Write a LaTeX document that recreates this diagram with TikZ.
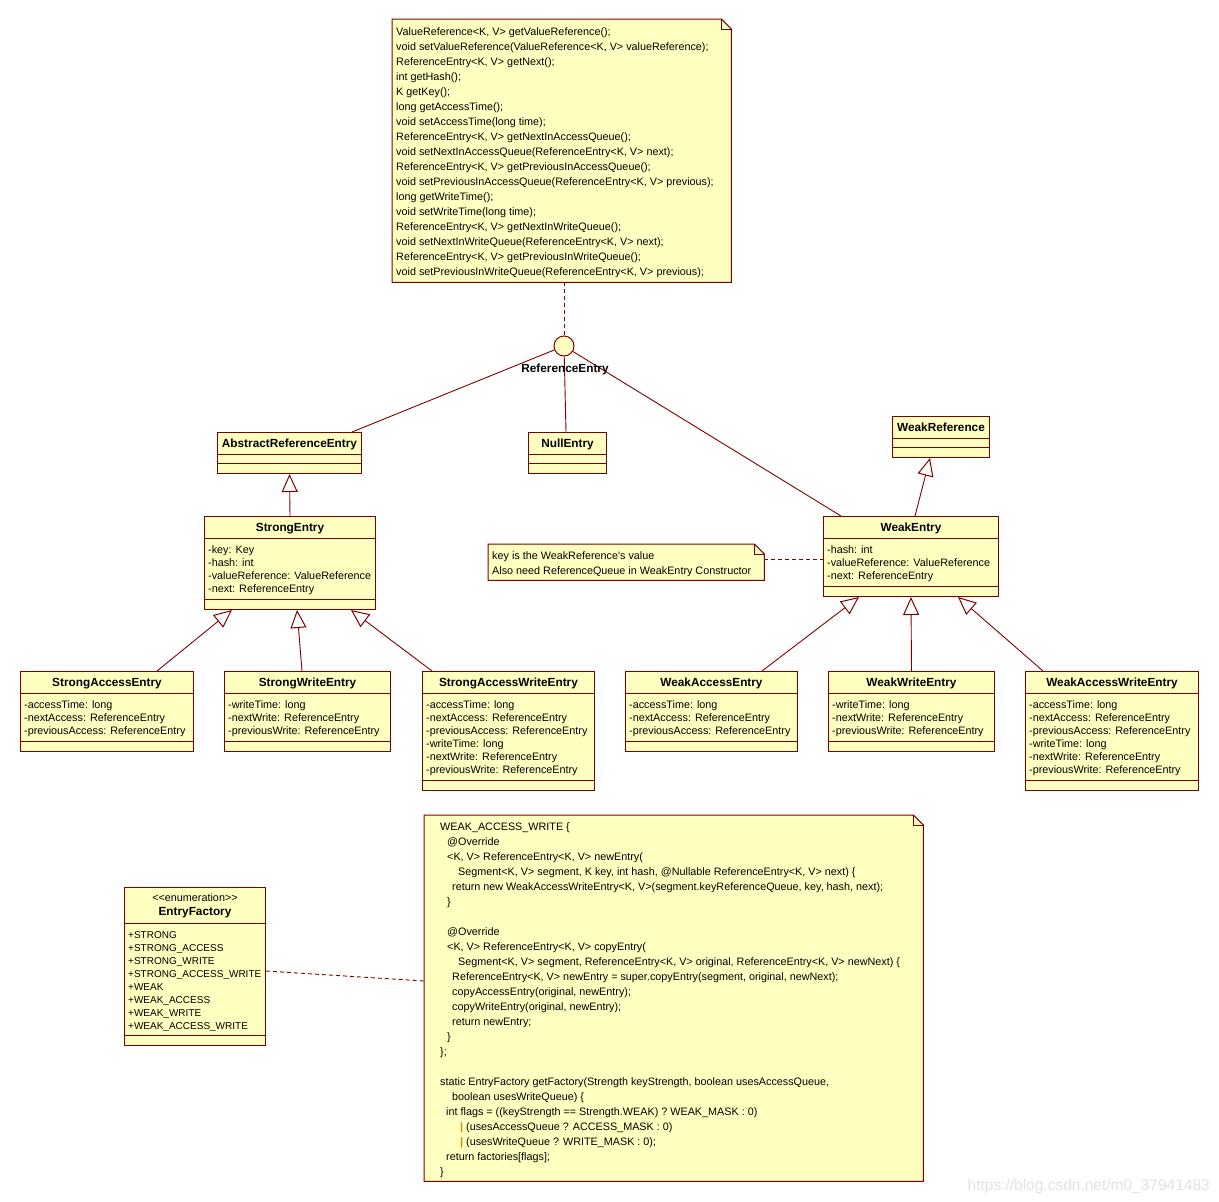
\documentclass[tikz,border=0pt]{standalone}
\usepackage{fontspec}
\setmainfont{Liberation Sans}[Ligatures=TeXOff]
\usetikzlibrary{arrows.meta}
\definecolor{umlfill}{RGB}{255,255,192}
\definecolor{umlline}{RGB}{128,0,0}
\definecolor{pipec}{RGB}{214,140,0}
\definecolor{wmc}{RGB}{226,226,226}
\newcommand{\rf}{\fontsize{10.8}{15}\selectfont}
\newcommand{\af}{\fontsize{10.8}{13}\selectfont}
\newcommand{\ef}{\fontsize{10}{13}\selectfont}
\newcommand{\tf}{\fontsize{11.8}{13}\selectfont\bfseries}
\newcommand{\pp}{{\color{pipec}\textbf{|}}}
\tikzset{
  box/.style={draw=umlline, fill=umlfill, line width=1pt, inner sep=0pt, anchor=north west, rectangle},
  sep/.style={draw=umlline, line width=1pt},
  conn/.style={draw=umlline, line width=0.9pt},
  gen/.style={conn, -{Triangle[open, length=18pt, width=16pt, line width=1pt]}},
  dsh/.style={conn, dash pattern=on 4pt off 3pt},
  ttl/.style={anchor=base, inner sep=0pt, font=\tf},
  blk/.style={anchor=north west, inner sep=0pt},
  frame/.style={anchor=north west, inner sep=0pt, rectangle},
}
\newcommand{\umlclass}[9]{%
  \node[box, minimum width=#4pt, minimum height=#5pt] (#1) at (#2,#3) {};
  \draw[sep] ([yshift=-#6pt]#1.north west) -- ([yshift=-#6pt]#1.north east);
  \draw[sep] ([yshift=-#7pt]#1.north west) -- ([yshift=-#7pt]#1.north east);
  \node[ttl] (#1-t) at ([yshift=-15pt]#1.north) {#8};
  \node[blk] (#1-a) at ([xshift=4pt,yshift=-28.5pt]#1.north west) {\af\begin{tabular}{@{}l@{}}#9\end{tabular}};
}
\newcommand{\umlnote}[5]{%
  \node[frame, minimum width=#4pt, minimum height=#5pt] (#1) at (#2,#3) {};
  \draw[sep, fill=umlfill] (#1.north west) -- ([xshift=-10pt]#1.north east) -- ([yshift=-10pt]#1.north east) -- (#1.south east) -- (#1.south west) -- cycle;
  \draw[sep] ([xshift=-10pt]#1.north east) -- ([xshift=-10pt,yshift=-10pt]#1.north east) -- ([yshift=-10pt]#1.north east);
}
\begin{document}
\begin{tikzpicture}[x=1pt,y=-1pt]
\fill[white] (0,0) rectangle (1219,1202);
\useasboundingbox (0,0) rectangle (1219,1202);

% top note
\umlnote{tn}{392}{19}{339}{263}
\node[blk] (tn-x) at (396,25) {\rf\begin{tabular}{@{}l@{}}
ValueReference<K, V> getValueReference();\\
void setValueReference(ValueReference<K, V> valueReference);\\
ReferenceEntry<K, V> getNext();\\
int getHash();\\
K getKey();\\
long getAccessTime();\\
void setAccessTime(long time);\\
ReferenceEntry<K, V> getNextInAccessQueue();\\
void setNextInAccessQueue(ReferenceEntry<K, V> next);\\
ReferenceEntry<K, V> getPreviousInAccessQueue();\\
void setPreviousInAccessQueue(ReferenceEntry<K, V> previous);\\
long getWriteTime();\\
void setWriteTime(long time);\\
ReferenceEntry<K, V> getNextInWriteQueue();\\
void setNextInWriteQueue(ReferenceEntry<K, V> next);\\
ReferenceEntry<K, V> getPreviousInWriteQueue();\\
void setPreviousInWriteQueue(ReferenceEntry<K, V> previous);
\end{tabular}};

% interface
\node[circle, draw=umlline, fill=umlfill, line width=1pt, minimum size=20pt, inner sep=0pt] (ifc) at (564,346) {};

% classes
\umlclass{are}{217}{432}{144}{41}{22}{31}{AbstractReferenceEntry}{}
\umlclass{nul}{528}{432}{78}{41}{22}{31}{NullEntry}{}
\umlclass{wr}{892}{416}{97}{41}{22}{31}{WeakReference}{}
\umlclass{se}{204}{516}{171}{93}{22}{83}{StrongEntry}{-key: Key\\ -hash: int\\ -valueReference: ValueReference\\ -next: ReferenceEntry}
\umlclass{we}{823}{516}{175}{80}{22}{70}{WeakEntry}{-hash: int\\ -valueReference: ValueReference\\ -next: ReferenceEntry}
\umlclass{sae}{20}{671}{173}{80}{22}{70}{StrongAccessEntry}{-accessTime: long\\ -nextAccess: ReferenceEntry\\ -previousAccess: ReferenceEntry}
\umlclass{swe}{224}{671}{166}{80}{22}{70}{StrongWriteEntry}{-writeTime: long\\ -nextWrite: ReferenceEntry\\ -previousWrite: ReferenceEntry}
\umlclass{sawe}{422}{671}{172}{119}{22}{109}{StrongAccessWriteEntry}{-accessTime: long\\ -nextAccess: ReferenceEntry\\ -previousAccess: ReferenceEntry\\ -writeTime: long\\ -nextWrite: ReferenceEntry\\ -previousWrite: ReferenceEntry}
\umlclass{wae}{625}{671}{172}{80}{22}{70}{WeakAccessEntry}{-accessTime: long\\ -nextAccess: ReferenceEntry\\ -previousAccess: ReferenceEntry}
\umlclass{wwe}{828}{671}{166}{80}{22}{70}{WeakWriteEntry}{-writeTime: long\\ -nextWrite: ReferenceEntry\\ -previousWrite: ReferenceEntry}
\umlclass{wawe}{1025}{671}{173}{119}{22}{109}{WeakAccessWriteEntry}{-accessTime: long\\ -nextAccess: ReferenceEntry\\ -previousAccess: ReferenceEntry\\ -writeTime: long\\ -nextWrite: ReferenceEntry\\ -previousWrite: ReferenceEntry}

% small note
\umlnote{sn}{488}{544}{276}{36}
\node[blk] (sn-x) at (492,549) {\rf\begin{tabular}{@{}l@{}}
key is the WeakReference's value\\
Also need ReferenceQueue in WeakEntry Constructor
\end{tabular}};

% EntryFactory
\node[box, minimum width=141pt, minimum height=158pt] (ef) at (124,887) {};
\draw[sep] ([yshift=-36pt]ef.north west) -- ([yshift=-36pt]ef.north east);
\draw[sep] ([yshift=-148pt]ef.north west) -- ([yshift=-148pt]ef.north east);
\node[anchor=base, inner sep=0pt, font=\af] (ef-s) at ([yshift=-14.5pt]ef.north) {<<enumeration>>};
\node[ttl] (ef-t) at ([yshift=-28.5pt]ef.north) {EntryFactory};
\node[blk] (ef-a) at ([xshift=4pt,yshift=-42pt]ef.north west) {\ef\begin{tabular}{@{}l@{}}
+STRONG\\ +STRONG\_ACCESS\\ +STRONG\_WRITE\\ +STRONG\_ACCESS\_WRITE\\ +WEAK\\ +WEAK\_ACCESS\\ +WEAK\_WRITE\\ +WEAK\_ACCESS\_WRITE
\end{tabular}};

% big note
\umlnote{bn}{424}{815}{499}{366}
\node[blk] (bn-x) at (440,820) {\rf\begin{tabular}{@{}l@{}}
WEAK\_ACCESS\_WRITE \{\\
\hspace*{7pt}@Override\\
\hspace*{7pt}<K, V> ReferenceEntry<K, V> newEntry(\\
\hspace*{18pt}Segment<K, V> segment, K key, int hash, @Nullable ReferenceEntry<K, V> next) \{\\
\hspace*{12pt}return new WeakAccessWriteEntry<K, V>(segment.keyReferenceQueue, key, hash, next);\\
\hspace*{7pt}\}\\
\mbox{}\\
\hspace*{7pt}@Override\\
\hspace*{7pt}<K, V> ReferenceEntry<K, V> copyEntry(\\
\hspace*{18pt}Segment<K, V> segment, ReferenceEntry<K, V> original, ReferenceEntry<K, V> newNext) \{\\
\hspace*{12pt}ReferenceEntry<K, V> newEntry = super.copyEntry(segment, original, newNext);\\
\hspace*{12pt}copyAccessEntry(original, newEntry);\\
\hspace*{12pt}copyWriteEntry(original, newEntry);\\
\hspace*{12pt}return newEntry;\\
\hspace*{7pt}\}\\
\};\\
\mbox{}\\
static EntryFactory getFactory(Strength keyStrength, boolean usesAccessQueue,\\
\hspace*{12pt}boolean usesWriteQueue) \{\\
\hspace*{6pt}int flags = ((keyStrength == Strength.WEAK) ? WEAK\_MASK : 0)\\
\hspace*{20pt}\pp{} (usesAccessQueue ? ACCESS\_MASK : 0)\\
\hspace*{20pt}\pp{} (usesWriteQueue ? WRITE\_MASK : 0);\\
\hspace*{6pt}return factories[flags];\\
\}
\end{tabular}};

% connectors
\draw[dsh] ([xshift=172pt]tn.south west) -- (ifc);
\draw[conn] (ifc) -- ([xshift=135pt]are.north west);
\draw[conn] (ifc) -- ([xshift=38pt]nul.north west);
\draw[conn] (ifc) -- ([xshift=18pt]we.north west);
\node[ttl] (ifc-l) at (565,372) {ReferenceEntry};

\draw[gen] (se.north) -- (are.south);
\draw[gen] ([xshift=92pt]we.north west) -- ([xshift=38pt]wr.south west);
\draw[gen] ([xshift=137pt]sae.north west) -- ([xshift=28pt]se.south west);
\draw[gen] ([xshift=78pt]swe.north west) -- ([xshift=93pt]se.south west);
\draw[gen] ([xshift=10pt]sawe.north west) -- ([xshift=147pt]se.south west);
\draw[gen] ([xshift=137pt]wae.north west) -- ([xshift=36pt]we.south west);
\draw[gen] (wwe.north) -- ([xshift=88pt]we.south west);
\draw[gen] ([xshift=18pt]wawe.north west) -- ([xshift=135pt]we.south west);

\draw[dsh] ([yshift=3pt]sn.east) -- ([yshift=3pt]sn.east -| we.west);
\draw[dsh] ([yshift=-84pt]ef.north east) -- ([yshift=-166pt]bn.north west);

% watermark
\node[anchor=base east, inner sep=0pt, text=wmc, font=\fontsize{15.5}{16}\selectfont] (wmk) at (1210,1190) {https://blog.csdn.net/m0\_37941483};
\end{tikzpicture}
\end{document}
